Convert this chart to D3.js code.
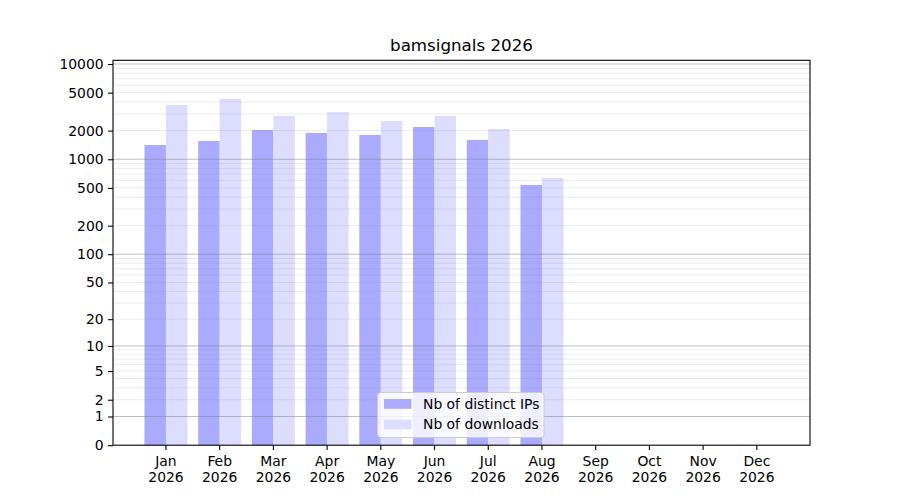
<!DOCTYPE html>
<html>
<head>
<meta charset="utf-8">
<script src="https://cdn.jsdelivr.net/npm/d3@7"></script>
<style>
  body { margin: 0; background: #fff; }
  text { font-family: "DejaVu Sans", sans-serif; }
</style>
</head>
<body>
<div id="chart"></div>
<script>
// monthly stats
var months = ["Jan", "Feb", "Mar", "Apr", "May", "Jun", "Jul", "Aug", "Sep", "Oct", "Nov", "Dec"];
var year = "2026";
var distinctIPs = [1410, 1555, 2030, 1890, 1800, 2180, 1595, 537, null, null, null, null];
var downloads = [3715, 4295, 2850, 3130, 2525, 2850, 2080, 636, null, null, null, null];
var yTicks = [0, 1, 2, 5, 10, 20, 50, 100, 200, 500, 1000, 2000, 5000, 10000];
var seriesNames = ["Nb of distinct IPs", "Nb of downloads"];
var seriesColors = ["#aaaaff", "#ddddff"];

var W = 900, H = 500;
// plot area (note: "top" is taken by window.top)
var plotL = 113, plotR = 810, plotT = 60.3, plotB = 445.2;

var svg = d3.select("#chart").append("svg")
    .attr("width", W)
    .attr("height", H);

var x = d3.scaleLinear()
    .domain([-0.986, 11.99])
    .range([plotL, plotR]);

var y = d3.scaleSymlog()
    .constant(1)
    .domain([0, 10934])
    .range([plotB, plotT]);

// grid values: majors at decades, minors at 2..9 of each decade
var majors = [1, 10, 100, 1000, 10000];
var minors = [];
majors.slice(0, 4).forEach(function(d) {
    for (var k = 2; k <= 9; k++) minors.push(d * k);
});

var barW = 0.4;

svg.selectAll(".bar-ip")
    .data(distinctIPs.map(function(v, i) { return {v: v, i: i}; }).filter(function(d) { return d.v != null; }))
  .enter().append("rect")
    .attr("class", "bar-ip")
    .attr("x", function(d) { return x(d.i - barW); })
    .attr("width", function(d) { return x(barW) - x(0); })
    .attr("y", function(d) { return y(d.v); })
    .attr("height", function(d) { return y(0) - y(d.v); })
    .attr("fill", seriesColors[0]);

svg.selectAll(".bar-dl")
    .data(downloads.map(function(v, i) { return {v: v, i: i}; }).filter(function(d) { return d.v != null; }))
  .enter().append("rect")
    .attr("class", "bar-dl")
    .attr("x", function(d) { return x(d.i); })
    .attr("width", function(d) { return x(barW) - x(0); })
    .attr("y", function(d) { return y(d.v); })
    .attr("height", function(d) { return y(0) - y(d.v); })
    .attr("fill", seriesColors[1]);

// grid drawn over bars, like matplotlib
svg.append("g").selectAll("line")
    .data(minors)
  .enter().append("line")
    .attr("x1", plotL).attr("x2", plotR)
    .attr("y1", function(d) { return y(d); })
    .attr("y2", function(d) { return y(d); })
    .attr("stroke", "#808080")
    .attr("stroke-opacity", 0.15)
    .attr("stroke-width", 1);

svg.append("g").selectAll("line")
    .data(majors)
  .enter().append("line")
    .attr("x1", plotL).attr("x2", plotR)
    .attr("y1", function(d) { return y(d); })
    .attr("y2", function(d) { return y(d); })
    .attr("stroke", "#808080")
    .attr("stroke-opacity", 0.5)
    .attr("stroke-width", 1);

// y axis
var yAxis = svg.append("g")
    .attr("transform", "translate(" + plotL + ",0)")
    .call(d3.axisLeft(y).tickValues(yTicks).tickFormat(d3.format("d")).tickSize(4.9).tickPadding(4.5));
yAxis.select(".domain").remove();
yAxis.selectAll("text")
    .attr("font-size", "13.9px")
    .attr("font-family", "DejaVu Sans")
    .attr("fill", "#000");
yAxis.selectAll("line").attr("stroke", "#000").attr("stroke-width", 1.1);

// x ticks and two-line labels
var xt = svg.append("g").selectAll("g")
    .data(months)
  .enter().append("g")
    .attr("transform", function(d, i) { return "translate(" + x(i) + "," + plotB + ")"; });
xt.append("line")
    .attr("y1", 0).attr("y2", 4.9)
    .attr("stroke", "#000").attr("stroke-width", 1.1);
xt.append("text")
    .attr("text-anchor", "middle")
    .attr("font-size", "13.9px")
    .attr("y", 21.3)
    .text(function(d) { return d; });
xt.append("text")
    .attr("text-anchor", "middle")
    .attr("font-size", "13.9px")
    .attr("y", 37)
    .text(year);

// frame
svg.append("rect")
    .attr("x", plotL).attr("y", plotT)
    .attr("width", plotR - plotL).attr("height", plotB - plotT)
    .attr("fill", "none")
    .attr("stroke", "#000")
    .attr("stroke-width", 1.1);

// title
svg.append("text")
    .attr("x", (plotL + plotR) / 2)
    .attr("y", 50.5)
    .attr("text-anchor", "middle")
    .attr("font-size", "16.7px")
    .text("bamsignals " + year);

// legend
var lg = svg.append("g").attr("transform", "translate(377.5,392.5)");
lg.append("rect")
    .attr("width", 166.5).attr("height", 45)
    .attr("rx", 3)
    .attr("fill", "#fff").attr("fill-opacity", 0.8)
    .attr("stroke", "#cccccc");
var items = lg.selectAll(".item")
    .data(seriesNames)
  .enter().append("g")
    .attr("class", "item")
    .attr("transform", function(d, i) { return "translate(0," + (i * 20.7) + ")"; });
items.append("rect")
    .attr("x", 6.5).attr("y", 6.5)
    .attr("width", 27.5).attr("height", 9.8)
    .attr("fill", function(d, i) { return seriesColors[i]; });
items.append("text")
    .attr("x", 45.5).attr("y", 16.3)
    .attr("font-size", "13.9px")
    .text(function(d) { return d; });
</script>
</body>
</html>
